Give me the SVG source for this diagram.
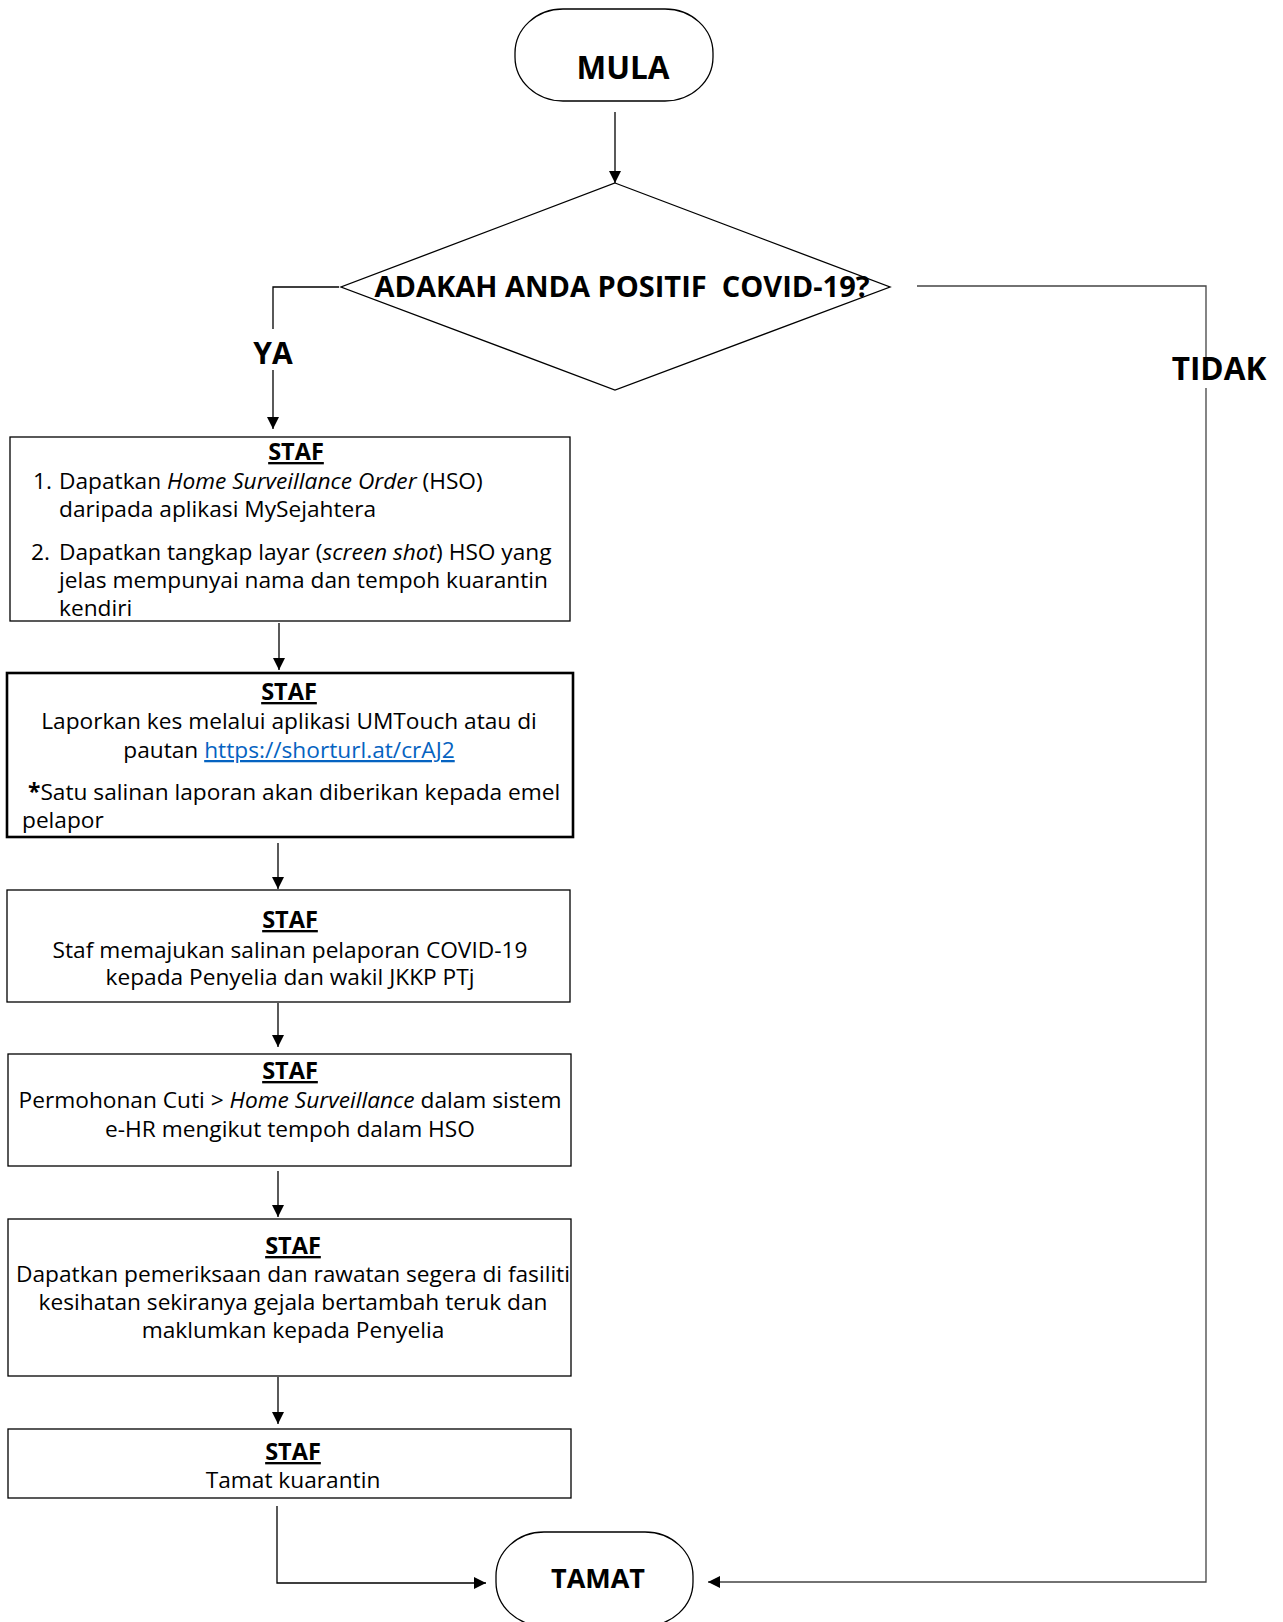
<svg xmlns="http://www.w3.org/2000/svg" width="1283" height="1622" viewBox="0 0 1283 1622">
<style>
.t{font-family:"Open Sans","Noto Sans","Liberation Sans",sans-serif;font-size:22.7px;fill:#000}
.b{font-weight:bold}
.h{font-weight:bold;text-decoration:underline;font-size:23.5px}
.c{text-anchor:middle}
.box{fill:#fff;stroke:#000;stroke-width:1.3}
.ln{fill:none;stroke:#000;stroke-width:1.3}
.lk{fill:#0563C1;text-decoration:underline}
</style>
<defs>
<marker id="ar" viewBox="0 0 10 10" refX="10" refY="5" markerUnits="userSpaceOnUse" markerWidth="12" markerHeight="12" orient="auto">
<path d="M0,0 L10,5 L0,10 z" fill="#000"/>
</marker>
</defs>
<rect width="1283" height="1622" fill="#fff"/>
<g id="connectors">
<line class="ln" x1="615" y1="112" x2="615" y2="183" marker-end="url(#ar)"/>
<polyline class="ln" points="339,287 273,287 273,329"/>
<line class="ln" x1="273" y1="370" x2="273" y2="429" marker-end="url(#ar)"/>
<polyline class="ln" style="stroke:#444" points="917,286 1206,286 1206,357"/>
<polyline class="ln" style="stroke:#444" points="1206,388 1206,1582 708,1582" marker-end="url(#ar)"/>
<line class="ln" x1="279" y1="623" x2="279" y2="670" marker-end="url(#ar)"/>
<line class="ln" x1="278" y1="843" x2="278" y2="889" marker-end="url(#ar)"/>
<line class="ln" x1="278" y1="1003" x2="278" y2="1047" marker-end="url(#ar)"/>
<line class="ln" x1="278" y1="1171" x2="278" y2="1217" marker-end="url(#ar)"/>
<line class="ln" x1="278" y1="1377" x2="278" y2="1424" marker-end="url(#ar)"/>
<polyline class="ln" points="277,1506 277,1583 486,1583" marker-end="url(#ar)"/>
</g>
<g id="mula">
<rect x="515" y="9" width="198" height="92" rx="48" ry="44" class="box"/>
<text x="623" y="79" class="t b c" style="font-size:31.5px">MULA</text>
</g>
<g id="decision">
<polygon points="615,183 890,287 615,390 341,287" class="box"/>
<text x="622" y="297" class="t b c" style="font-size:29px" xml:space="preserve">ADAKAH ANDA POSITIF  COVID-19?</text>
</g>
<g id="label-ya"><text x="273" y="364" class="t b c" style="font-size:30px">YA</text></g>
<g id="label-tidak"><text x="1219" y="380" class="t b c" style="font-size:31.5px">TIDAK</text></g>
<g id="box1">
<rect x="10" y="437" width="560" height="184" class="box"/>
<text x="296" y="460" class="t h c">STAF</text>
<text x="33" y="489" class="t">1.</text>
<text x="59" y="489" class="t">Dapatkan <tspan font-style="italic">Home Surveillance Order</tspan> (HSO)</text>
<text x="59" y="517" class="t">daripada aplikasi MySejahtera</text>
<text x="31" y="560" class="t">2.</text>
<text x="59" y="560" class="t">Dapatkan tangkap layar (<tspan font-style="italic">screen shot</tspan>) HSO yang</text>
<text x="59" y="588" class="t">jelas mempunyai nama dan tempoh kuarantin</text>
<text x="59" y="616" class="t">kendiri</text>
</g>
<g id="box2">
<rect x="7" y="673" width="566" height="164" class="box" style="stroke-width:2.6"/>
<text x="289" y="700" class="t h c">STAF</text>
<text x="289" y="729" class="t c">Laporkan kes melalui aplikasi UMTouch atau di</text>
<text x="289" y="758" class="t c">pautan <tspan class="lk">https://shorturl.at/crAJ2</tspan></text>
<text x="28" y="800" class="t"><tspan font-weight="bold">*</tspan>Satu salinan laporan akan diberikan kepada emel</text>
<text x="22" y="828" class="t">pelapor</text>
</g>
<g id="box3">
<rect x="7" y="890" width="563" height="112" class="box"/>
<text x="290" y="928" class="t h c">STAF</text>
<text x="290" y="958" class="t c">Staf memajukan salinan pelaporan COVID-19</text>
<text x="290" y="985" class="t c">kepada Penyelia dan wakil JKKP PTj</text>
</g>
<g id="box4">
<rect x="8" y="1054" width="563" height="112" class="box"/>
<text x="290" y="1079" class="t h c">STAF</text>
<text x="290" y="1108" class="t c">Permohonan Cuti &gt; <tspan font-style="italic">Home Surveillance</tspan> dalam sistem</text>
<text x="290" y="1137" class="t c">e-HR mengikut tempoh dalam HSO</text>
</g>
<g id="box5">
<rect x="8" y="1219" width="563" height="157" class="box"/>
<text x="293" y="1254" class="t h c">STAF</text>
<text x="293" y="1282" class="t c">Dapatkan pemeriksaan dan rawatan segera di fasiliti</text>
<text x="293" y="1310" class="t c">kesihatan sekiranya gejala bertambah teruk dan</text>
<text x="293" y="1338" class="t c">maklumkan kepada Penyelia</text>
</g>
<g id="box6">
<rect x="8" y="1429" width="563" height="69" class="box"/>
<text x="293" y="1460" class="t h c">STAF</text>
<text x="293" y="1488" class="t c">Tamat kuarantin</text>
</g>
<g id="tamat">
<rect x="496" y="1532" width="197" height="94" rx="48" ry="44" class="box"/>
<text x="598" y="1588" class="t b c" style="font-size:27px">TAMAT</text>
</g>
</svg>
